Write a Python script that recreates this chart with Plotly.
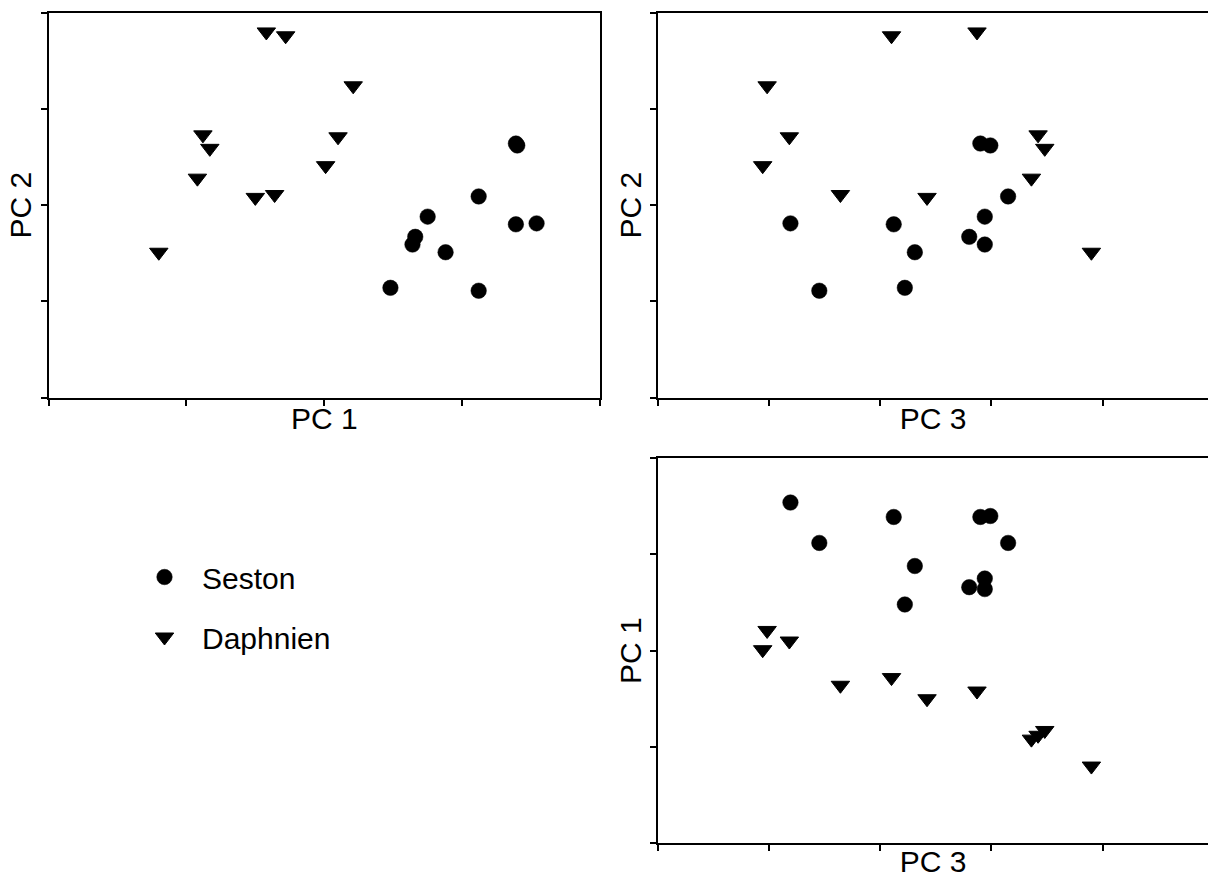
import plotly.graph_objects as go

# Principal component scores per sample
seston_pc1 = [1.39, 1.40, 1.12, 0.75, 0.66, 0.64, 0.88, 1.39, 1.54, 0.48, 1.12]
seston_pc2 = [0.64, 0.62, 0.09, -0.12, -0.33, -0.41, -0.49, -0.20, -0.19, -0.86, -0.89]
seston_pc3 = [0.90, 0.99, 1.15, 0.94, 0.80, 0.94, 0.31, 0.12, -0.81, 0.22, -0.55]

daphnien_pc1 = [-0.42, -0.28, 0.21, -0.88, -0.83, 0.10, -0.92, 0.01, -0.50, -0.36, -1.20]
daphnien_pc2 = [1.80, 1.76, 1.24, 0.73, 0.59, 0.71, 0.28, 0.41, 0.08, 0.11, -0.49]
daphnien_pc3 = [0.87, 0.10, -1.02, 1.42, 1.48, -0.82, 1.36, -1.06, 0.42, -0.36, 1.90]

tick_positions = [-2, -1, 0, 1, 2]

W, H = 1208, 881
FONT = "Liberation Sans, Arial, sans-serif"
FONT_SIZE = 30


def hdom(left, right):
    return [left / W, right / W]


def vdom(top, bottom):
    return [1 - bottom / H, 1 - top / H]


seston_marker = dict(symbol="circle", size=15.5, color="black",
                     line=dict(width=0.5, color="black"))
daphnien_marker = dict(symbol="triangle-down", size=16, color="black",
                       line=dict(width=1, color="black"))

fig = go.Figure()

# panel 1: PC 1 vs PC 2
fig.add_trace(go.Scatter(x=seston_pc1, y=seston_pc2, mode="markers", name="Seston",
                         marker=seston_marker, xaxis="x", yaxis="y",
                         legend="legend", showlegend=True))
fig.add_trace(go.Scatter(x=daphnien_pc1, y=daphnien_pc2, mode="markers", name="Daphnien",
                         marker=daphnien_marker, xaxis="x", yaxis="y",
                         legend="legend2", showlegend=True))
# panel 2: PC 3 vs PC 2
fig.add_trace(go.Scatter(x=seston_pc3, y=seston_pc2, mode="markers", name="Seston",
                         marker=seston_marker, xaxis="x2", yaxis="y2", showlegend=False))
fig.add_trace(go.Scatter(x=daphnien_pc3, y=daphnien_pc2, mode="markers", name="Daphnien",
                         marker=daphnien_marker, xaxis="x2", yaxis="y2", showlegend=False))
# panel 3: PC 3 vs PC 1
fig.add_trace(go.Scatter(x=seston_pc3, y=seston_pc1, mode="markers", name="Seston",
                         marker=seston_marker, xaxis="x3", yaxis="y3", showlegend=False))
fig.add_trace(go.Scatter(x=daphnien_pc3, y=daphnien_pc1, mode="markers", name="Daphnien",
                         marker=daphnien_marker, xaxis="x3", yaxis="y3", showlegend=False))

axis_style = dict(
    showline=True, linecolor="black", linewidth=2,
    ticks="outside", ticklen=6, tickwidth=1.5, tickcolor="black",
    showticklabels=False, showgrid=False, zeroline=False,
    tickmode="array", tickvals=tick_positions, fixedrange=True,
)
title_font = dict(family=FONT, size=FONT_SIZE, color="black")

fig.update_layout(
    width=W, height=H,
    margin=dict(l=0, r=0, t=0, b=0),
    paper_bgcolor="white", plot_bgcolor="white",
    font=dict(family=FONT, size=FONT_SIZE, color="black"),
    xaxis=dict(axis_style, domain=hdom(48.5, 600), range=[-2, 2], anchor="y", mirror=True,
               title=dict(text="PC 1", font=title_font, standoff=3)),
    yaxis=dict(axis_style, domain=vdom(12.7, 397.5), range=[-2, 2], anchor="x", mirror=True,
               title=dict(text="PC 2", font=title_font, standoff=0)),
    xaxis2=dict(axis_style, domain=hdom(658.3, W), range=[-2, 2.95], anchor="y2", mirror=True,
                title=dict(text="PC 3", font=title_font, standoff=3)),
    yaxis2=dict(axis_style, domain=vdom(12.7, 397.5), range=[-2, 2], anchor="x2",
                title=dict(text="PC 2", font=title_font, standoff=0)),
    xaxis3=dict(axis_style, domain=hdom(658.3, W), range=[-2, 2.95], anchor="y3", mirror=True,
                title=dict(text="PC 3", font=title_font, standoff=1)),
    yaxis3=dict(axis_style, domain=vdom(458.3, 843), range=[-2, 2], anchor="x3",
                title=dict(text="PC 1", font=title_font, standoff=0)),
    legend=dict(x=127 / W, xanchor="left", y=1 - 577 / H, yanchor="middle",
                itemwidth=65, bgcolor="rgba(0,0,0,0)", borderwidth=0,
                font=dict(family=FONT, size=FONT_SIZE, color="black")),
    legend2=dict(x=127 / W, xanchor="left", y=1 - 637 / H, yanchor="middle",
                 itemwidth=65, bgcolor="rgba(0,0,0,0)", borderwidth=0,
                 font=dict(family=FONT, size=FONT_SIZE, color="black")),
)

fig.write_html("out.html")
